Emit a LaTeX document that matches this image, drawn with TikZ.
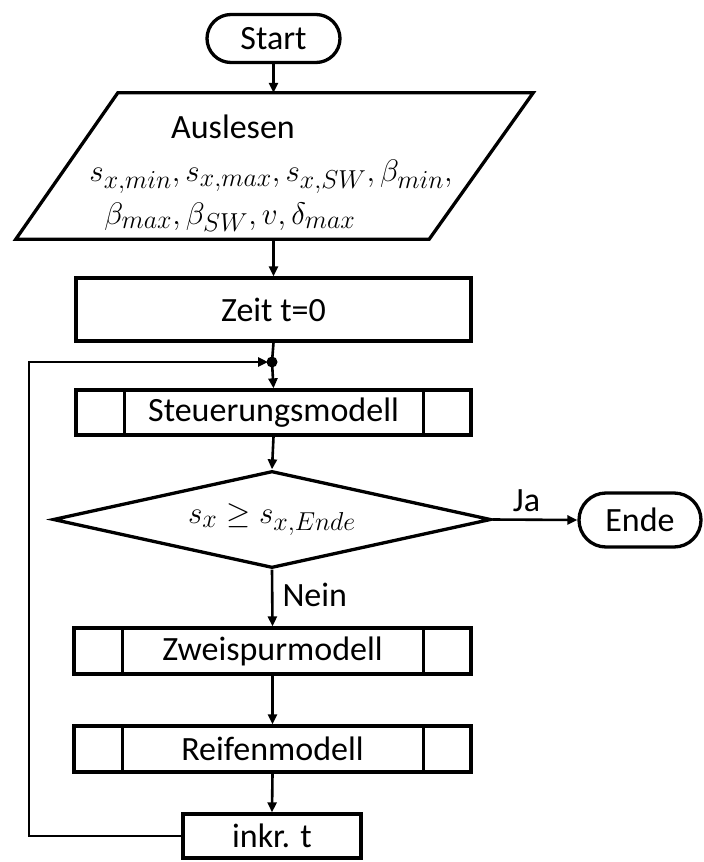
\documentclass[tikz,border=0pt]{standalone}
\usepackage{fontspec}
\setmainfont{Carlito}
\usetikzlibrary{shapes.misc,shapes.geometric,arrows.meta}
\newcommand{\bigmath}[1]{\scalebox{1.25}{$#1$}}
\begin{document}
\begin{tikzpicture}[x=1pt,y=-1pt,
  shp/.style={draw,line width=3.3pt,inner sep=0pt,font=\fontsize{34}{40}\selectfont},
  term/.style={shp,rounded rectangle},
  proc/.style={shp,rectangle},
  sub/.style={shp,rectangle},
  arr/.style={line width=2.6pt,-{Triangle[length=10pt,width=9pt]}},
  lbl/.style={font=\fontsize{34}{40}\selectfont,inner sep=0pt},
  mth/.style={font=\fontsize{24.88}{30}\selectfont,inner sep=0pt}]
\useasboundingbox (0,0) rectangle (704,862);

% flow nodes
\node[term,minimum width=133pt,minimum height=48pt] (start) at (273.5,38.5) {Start};
% input/output block: a parallelogram drawn over an invisible frame node
\node[inner sep=0pt,minimum width=517pt,minimum height=146pt] (par) at (274.5,166) {};
\draw[line width=3.3pt,line join=miter]
  ([xshift=102pt]par.north west) -- (par.north east)
  -- ([xshift=-104pt]par.south east) -- (par.south west) -- cycle;
\node[lbl] (ausl) at (233,127) {Auslesen};
\node[mth] (inA) at (271,177) {\bigmath{s_{x,min}, s_{x,max}, s_{x,SW}, \beta_{min},}};
\node[mth] (inB) at (230,217) {\bigmath{\beta_{max}, \beta_{SW}, v, \delta_{max}}};

\node[proc,minimum width=395pt,minimum height=63pt] (zeit) at (273.5,309.5) {Zeit t=0};
\coordinate (jn) at (272,362);
\node[sub,minimum width=395pt,minimum height=45pt] (steu) at (273.5,412.5) {Steuerungsmodell};
\node[shp,diamond,minimum width=438pt,minimum height=97pt] (dec) at (272,519.5) {};
\node[mth] (cond) at (dec) {\bigmath{s_x \geq s_{x,Ende}}};
\node[term,minimum width=122pt,minimum height=54pt] (ende) at (640,520) {Ende};
\node[sub,minimum width=397pt,minimum height=46pt] (zwei) at (272.5,651) {Zweispurmodell};
\node[sub,minimum width=397pt,minimum height=46pt] (reif) at (272.5,749) {Reifenmodell};
\node[proc,minimum width=178pt,minimum height=44pt] (inkr) at (272,836) {inkr. t};

% inner bars of the predefined-process boxes
\foreach \n in {steu,zwei,reif}{
  \draw[line width=3.3pt] ([xshift=50pt]\n.north west) -- ([xshift=50pt]\n.south west);
  \draw[line width=3.3pt] ([xshift=-49pt]\n.north east) -- ([xshift=-49pt]\n.south east);
}

% connectors
\draw[arr] (start.south) -- (start.south |- par.north);
\draw[arr] (par.south -| zeit.north) -- (zeit.north);
\draw[line width=2.6pt] (zeit.south) -- (jn);
\draw[arr] (jn) -- (steu.north);
\draw[arr] (steu.south) -- (dec.north);
\draw[arr] (dec.east) -- node[lbl,above=7pt,pos=0.4] (ja) {Ja} (ende.west);
\draw[arr] (dec.south) -- node[lbl,right=9pt,pos=0.45] (nein) {Nein} (zwei.north);
\draw[arr] (zwei.south) -- (reif.north);
\draw[arr] (reif.south) -- (inkr.north);
\coordinate (lp) at (29,836);
\draw[arr] (inkr.west) -- (lp) -- (lp |- jn) -- ([xshift=-4pt]jn);
\fill (jn) circle (5.5pt);
\end{tikzpicture}
\end{document}
